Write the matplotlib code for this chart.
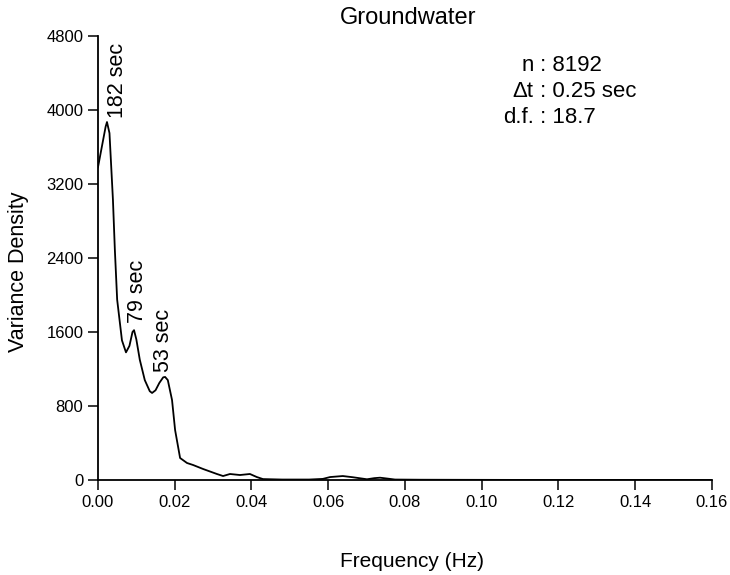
import matplotlib
matplotlib.use('Agg')
import matplotlib.pyplot as plt

plt.rcParams['font.family'] = ['Liberation Sans', 'DejaVu Sans']

# 频率 (Hz) 与方差密度，读自原图
freq = [0.0, 0.0010, 0.0020, 0.00235, 0.0030, 0.0039, 0.0044, 0.0050, 0.00625,
        0.0073, 0.0082, 0.0090, 0.0094, 0.0100, 0.0109, 0.0122, 0.0135, 0.0141,
        0.0150, 0.0160, 0.0170, 0.0175, 0.0182, 0.0193, 0.0201, 0.0214, 0.0232,
        0.0248, 0.0274, 0.0310, 0.0326, 0.0344, 0.0370, 0.0396, 0.0414, 0.0430,
        0.0480, 0.0550, 0.0586, 0.0605, 0.0638, 0.0664, 0.0701, 0.0720, 0.0735,
        0.0755, 0.0774, 0.0840, 0.0950, 0.1100, 0.1300, 0.1500, 0.1600]
density = [3380, 3600, 3820, 3870, 3750, 3030, 2490, 1950, 1510,
           1380, 1450, 1600, 1620, 1520, 1300, 1080, 960, 941,
           970, 1050, 1110, 1114, 1080, 865, 540, 238, 184,
           162, 119, 65, 43, 65, 54, 65, 32, 10,
           5, 5, 12, 32, 43, 30, 8, 20, 25,
           15, 5, 3, 2, 1, 1, 1, 0]

peak_labels = ['182 sec', '79 sec', '53 sec']
peak_freq = [0.0050, 0.0102, 0.0172]
peak_y = [3910, 1700, 1170]

info_names = ['n', 'Δt', 'd.f.']
info_values = ['8192', '0.25 sec', '18.7']

fig = plt.figure(figsize=(7.3, 5.75), dpi=100)
ax = fig.add_axes([0.1342, 0.1652, 0.8411, 0.7722])
ax.plot(freq, density, color='black', lw=1.3)

ax.set_xlim(0, 0.16)
ax.set_ylim(0, 4800)
ax.set_xticks([0.0, 0.02, 0.04, 0.06, 0.08, 0.10, 0.12, 0.14, 0.16])
ax.set_xticklabels(['0.00', '0.02', '0.04', '0.06', '0.08', '0.10', '0.12', '0.14', '0.16'])
ax.set_yticks([0, 800, 1600, 2400, 3200, 4000, 4800])
ax.tick_params(direction='out', length=7, width=1.1, labelsize=12)
for s in ['top', 'right']:
    ax.spines[s].set_visible(False)
for s in ['left', 'bottom']:
    ax.spines[s].set_linewidth(1.3)

fig.text(0.559, 0.969, 'Groundwater', fontsize=17, ha='center', va='center')
fig.text(0.565, 0.024, 'Frequency (Hz)', fontsize=15, ha='center', va='center')
fig.text(0.026, 0.527, 'Variance Density', fontsize=15.5, rotation=90,
         ha='center', va='center')

for lab, fx, fy in zip(peak_labels, peak_freq, peak_y):
    ax.text(fx, fy, lab, rotation=90, ha='center', va='bottom', fontsize=15.5)

for i, (nm, val) in enumerate(zip(info_names, info_values)):
    y = 4476 - i * 281
    ax.text(0.1135, y, nm, ha='right', va='center', fontsize=16)
    ax.text(0.1137, y, ' : ' + val, ha='left', va='center', fontsize=16)

fig.savefig('out.png', dpi=100)
